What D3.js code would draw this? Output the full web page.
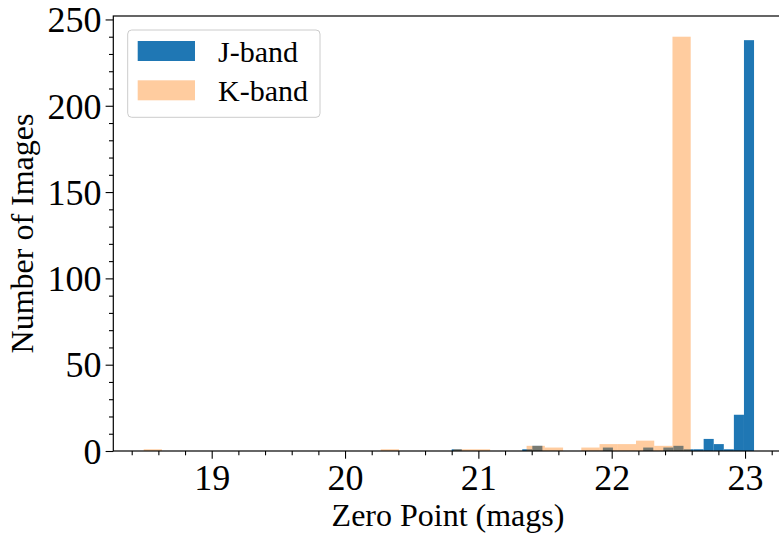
<!DOCTYPE html>
<html>
<head>
<meta charset="utf-8">
<script src="https://cdn.jsdelivr.net/npm/d3@7"></script>
<style>
  html, body { margin: 0; padding: 0; background: #ffffff; }
  svg { display: block; }
  text { font-family: "Liberation Serif", "Times New Roman", serif; fill: #000; }
</style>
</head>
<body>
<svg id="chart" width="779" height="536"></svg>
<script>
// ---- data ----
const seriesNames = ["J-band", "K-band"];
// J-band histogram: bin range (mag) and counts per bin
const jRange = [20.80, 23.0675];
const jCounts = [1,0,0,0,0,0,0,1,3,0,0,0,0,0,0,2,0,0,0,2,0,2,3,1,1,7,4,1,21,238];
// K-band histogram: bin range (mag) and counts per bin
const kRange = [18.49, 22.5925];
const kCounts = [1,0,0,0,0,0,0,0,0,0,0,0,0,1,0,0,0,1,1,0,0,3,2,0,2,4,4,6,3,240];
// axes
const xDomain = [18.262, 23.296];
const yDomain = [0, 252];
const xTicks = [19, 20, 21, 22, 23];
const yTicks = [0, 50, 100, 150, 200, 250];
const xLabel = "Zero Point (mags)";
const yLabel = "Number of Images";

// ---- layout ----
const svg = d3.select("#chart");
const mLeft = 113.3, mRight = 784.5, mTop = 16, mBottom = 451;
const x = d3.scaleLinear().domain(xDomain).range([mLeft, mRight]);
const y = d3.scaleLinear().domain(yDomain).range([mBottom, mTop]);
const colJ = "#1f77b4", colK = "#ff7f0e";

function toBins(range, counts) {
  const w = (range[1] - range[0]) / counts.length;
  return counts.map((c, i) => ({x0: range[0] + i * w, x1: range[0] + (i + 1) * w, c}));
}
const jBins = toBins(jRange, jCounts);
const kBins = toBins(kRange, kCounts);

const plot = svg.append("g");
plot.selectAll("rect.j").data(jBins.filter(d => d.c > 0)).join("rect")
  .attr("class", "j")
  .attr("x", d => x(d.x0)).attr("width", d => x(d.x1) - x(d.x0))
  .attr("y", d => y(d.c)).attr("height", d => y(0) - y(d.c))
  .attr("fill", colJ);
plot.selectAll("rect.k").data(kBins.filter(d => d.c > 0)).join("rect")
  .attr("class", "k")
  .attr("x", d => x(d.x0)).attr("width", d => x(d.x1) - x(d.x0))
  .attr("y", d => y(d.c)).attr("height", d => y(0) - y(d.c))
  .attr("fill", colK).attr("fill-opacity", 0.4);

// ---- axes ----
const xMinor = d3.range(18.4, 23.25, 0.2).filter(v => Math.abs(v - Math.round(v)) > 1e-6);
const yMinor = d3.range(10, 251, 10).filter(v => v % 50 !== 0);

const xAxis = d3.axisBottom(x).tickValues(xTicks).tickFormat(d3.format("d")).tickSize(7.7).tickPadding(6);
const xAxisMinor = d3.axisBottom(x).tickValues(xMinor).tickFormat("").tickSize(4.3);
const yAxis = d3.axisLeft(y).tickValues(yTicks).tickFormat(d3.format("d")).tickSize(7.7).tickPadding(4);
const yAxisMinor = d3.axisLeft(y).tickValues(yMinor).tickFormat("").tickSize(4.3);

function styleAxis(g, fs) {
  g.select(".domain").remove();
  g.selectAll(".tick line").attr("stroke", "#000").attr("stroke-width", 1.1);
  g.selectAll(".tick text").attr("font-size", fs).attr("font-family", "Liberation Serif");
}
svg.append("g").attr("transform", `translate(0,${mBottom})`).call(xAxisMinor).call(g => styleAxis(g, 0));
svg.append("g").attr("transform", `translate(0,${mBottom})`).call(xAxis).call(g => styleAxis(g, 36));
svg.append("g").attr("transform", `translate(${mLeft},0)`).call(yAxisMinor).call(g => styleAxis(g, 0));
svg.append("g").attr("transform", `translate(${mLeft},0)`).call(yAxis).call(g => styleAxis(g, 36))
  .selectAll(".tick text").attr("dy", "0.34em");

// spines (right spine falls outside the picture)
svg.append("rect").attr("x", mLeft).attr("y", mTop).attr("width", mRight - mLeft).attr("height", mBottom - mTop)
  .attr("fill", "none").attr("stroke", "#000").attr("stroke-width", 1.2);

// axis labels
svg.append("text").attr("x", 448).attr("y", 526).attr("text-anchor", "middle")
  .attr("font-size", 32).text(xLabel);
svg.append("text").attr("transform", `translate(33,${(mTop + mBottom) / 2}) rotate(-90)`)
  .attr("text-anchor", "middle").attr("font-size", 32).text(yLabel);

// ---- legend ----
const lg = svg.append("g");
lg.append("rect").attr("x", 127.7).attr("y", 30).attr("width", 192.3).attr("height", 87.3)
  .attr("rx", 4).attr("fill", "#fff").attr("fill-opacity", 0.8)
  .attr("stroke", "#cccccc").attr("stroke-width", 1);
const items = [{name: seriesNames[0], color: colJ, op: 1}, {name: seriesNames[1], color: colK, op: 0.4}];
items.forEach((it, i) => {
  const yy = 41 + i * 39.3;
  lg.append("rect").attr("x", 137.7).attr("y", yy).attr("width", 57.3).attr("height", 20)
    .attr("fill", it.color).attr("fill-opacity", it.op);
  lg.append("text").attr("x", 218).attr("y", yy + 20.5).attr("font-size", 30).text(it.name);
});
</script>
</body>
</html>
